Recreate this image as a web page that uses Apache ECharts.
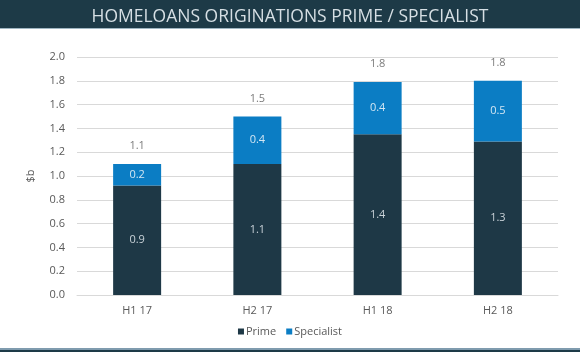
<!DOCTYPE html>
<html>
<head>
<meta charset="utf-8">
<script src="https://cdn.jsdelivr.net/npm/echarts@6/dist/echarts.min.js"></script>
<style>
  html, body { margin: 0; padding: 0; background: #fff; }
  #main { width: 580px; height: 352px; }
</style>
</head>
<body>
<div id="main"></div>
<script>
var categories = ['H1 17', 'H2 17', 'H1 18', 'H2 18'];
var prime = [0.92, 1.1, 1.35, 1.29];
var specialist = [0.18, 0.4, 0.44, 0.51];
var yTicks = [0, 0.2, 0.4, 0.6, 0.8, 1.0, 1.2, 1.4, 1.6, 1.8, 2.0];

// totals shown above each bar
var totals = prime.map(function (v, i) { return +(v + specialist[i]).toFixed(2); });

var chart = echarts.init(document.getElementById('main'));
chart.setOption({
  animation: false,
  textStyle: { fontFamily: 'Open Sans' },
  graphic: [
    { type: 'rect', shape: { x: 0, y: 0, width: 580, height: 28 }, style: { fill: '#1d3a47' }, z: 0 },
    { type: 'rect', shape: { x: 0, y: 28, width: 580, height: 1 }, style: { fill: '#9fb6c2' }, z: 0 },
    { type: 'rect', shape: { x: 0, y: 348, width: 580, height: 2 }, style: { fill: '#7f9bae' }, z: 0 },
    { type: 'rect', shape: { x: 0, y: 350, width: 580, height: 2 }, style: { fill: '#1d3a47' }, z: 0 }
  ],
  title: {
    text: 'HOMELOANS ORIGINATIONS PRIME / SPECIALIST',
    left: 'center',
    top: 3,
    textStyle: { color: '#d6dfe4', fontSize: 17.5, fontWeight: 'normal', fontFamily: 'Open Sans' }
  },
  color: ['#1e3846', '#0b7dc4'],
  legend: {
    data: ['Prime', 'Specialist'],
    bottom: 10,
    left: 'center',
    icon: 'rect',
    itemWidth: 6,
    itemHeight: 6,
    itemGap: 10,
    textStyle: { color: '#595959', fontSize: 11, padding: [0, 0, 0, -3] }
  },
  grid: { left: 77, right: 22, top: 57, bottom: 57 },
  xAxis: {
    type: 'category',
    data: categories,
    axisTick: { show: false },
    axisLine: { lineStyle: { color: '#d9d9d9' } },
    axisLabel: { color: '#595959', fontSize: 11, margin: 10 }
  },
  yAxis: {
    type: 'value',
    min: yTicks[0],
    max: yTicks[yTicks.length - 1],
    interval: 0.2,
    name: '$b',
    nameLocation: 'middle',
    nameRotate: 90,
    nameGap: 41,
    nameTextStyle: { color: '#595959', fontSize: 11 },
    axisLabel: { color: '#595959', fontSize: 11, margin: 12, formatter: function (v) { return v.toFixed(1); } },
    splitLine: { lineStyle: { color: '#d9d9d9' } }
  },
  series: [
    {
      name: 'Prime',
      type: 'bar',
      stack: 'total',
      barWidth: 48,
      data: prime,
      label: { show: true, position: 'inside', color: '#c9d2d8', fontSize: 11, formatter: function (p) { return p.value.toFixed(1); } }
    },
    {
      name: 'Specialist',
      type: 'bar',
      stack: 'total',
      barWidth: 48,
      data: specialist,
      label: { show: true, position: 'inside', color: '#d3e6f3', fontSize: 11, formatter: function (p) { return p.value.toFixed(1); } }
    },
    {
      name: 'Total',
      type: 'scatter',
      data: totals,
      symbolSize: 1,
      itemStyle: { color: 'rgba(0,0,0,0)' },
      label: { show: true, position: 'top', distance: 12, color: '#595959', fontSize: 11, formatter: function (p) { return p.value.toFixed(1); } },
      tooltip: { show: false }
    }
  ]
});
</script>
</body>
</html>
